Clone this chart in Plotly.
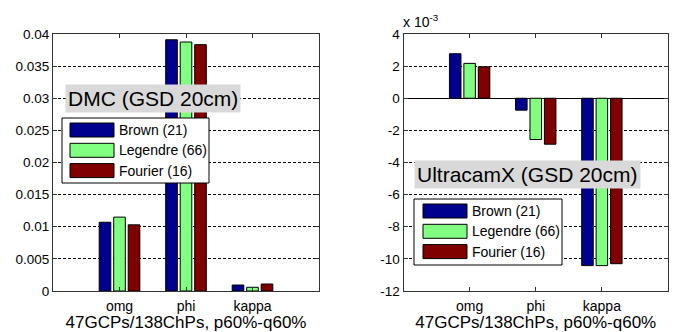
import plotly.graph_objects as go

# Orientation angle residuals per calibration model
categories = ["omg", "phi", "kappa"]
series_names = ["Brown (21)", "Legendre (66)", "Fourier (16)"]
series_colors = ["#00008f", "#80ff80", "#800000"]

# DMC camera (GSD 20cm)
dmc_brown = [0.0107, 0.0391, 0.00093]
dmc_legendre = [0.0115, 0.03875, 0.00058]
dmc_fourier = [0.0103, 0.03834, 0.00109]

# UltracamX camera (GSD 20cm), values in units of 1e-3
ucx_brown = [2.77, -0.74, -10.42]
ucx_legendre = [2.17, -2.57, -10.42]
ucx_fourier = [1.96, -2.86, -10.30]

dmc_ticks = [0, 0.005, 0.01, 0.015, 0.02, 0.025, 0.03, 0.035, 0.04]
dmc_ticktext = ["0", "0.005", "0.01", "0.015", "0.02", "0.025", "0.03", "0.035", "0.04"]
ucx_ticks = [-12, -10, -8, -6, -4, -2, 0, 2, 4]
ucx_ticktext = ["-12", "-10", "-8", "-6", "-4", "-2", "0", "2", "4"]

panel_titles = ["DMC (GSD 20cm)", "UltracamX (GSD 20cm)"]
x_title = "47GCPs/138ChPs, p60%-q60%"

W, H = 676, 332
FONT = "Liberation Sans, Arial, Helvetica, sans-serif"


def px(x):
    return x / W


def py(y):
    return 1 - y / H


fig = go.Figure()

dmc_series = [dmc_brown, dmc_legendre, dmc_fourier]
ucx_series = [ucx_brown, ucx_legendre, ucx_fourier]
for name, color, vals in zip(series_names, series_colors, dmc_series):
    fig.add_trace(go.Bar(x=categories, y=vals, name=name, xaxis="x", yaxis="y",
                         marker=dict(color=color, line=dict(color="black", width=1)),
                         showlegend=False))
for name, color, vals in zip(series_names, series_colors, ucx_series):
    fig.add_trace(go.Bar(x=categories, y=vals, name=name, xaxis="x2", yaxis="y2",
                         marker=dict(color=color, line=dict(color="black", width=1)),
                         showlegend=False))

frame = dict(showline=True, linecolor="#333333", linewidth=1, mirror="ticks",
             ticks="inside", ticklen=4, tickcolor="#333333", automargin=False)
grid = dict(showgrid=True, gridcolor="black", gridwidth=1, griddash="3px,2px")
ytickfont = dict(family=FONT, size=13.5, color="black")
xtickfont = dict(family=FONT, size=14, color="black")

xdom1 = [px(53), px(319)]
xdom2 = [px(403.5), px(668)]
ydom = [py(291), py(34)]

fig.update_layout(
    width=W, height=H,
    margin=dict(l=0, r=0, t=0, b=0, autoexpand=False),
    paper_bgcolor="white", plot_bgcolor="white",
    barmode="group", bargap=0.346, bargroupgap=0.2,
    font=dict(family=FONT, color="black"),
    xaxis=dict(domain=xdom1, anchor="y", type="category", range=[-1, 3],
               showgrid=False, zeroline=False, tickfont=xtickfont,
               ticklabelstandoff=2,
               title=dict(text=x_title, font=dict(family=FONT, size=17), standoff=4),
               **frame),
    xaxis2=dict(domain=xdom2, anchor="y2", type="category", range=[-1, 3],
                showgrid=False, zeroline=False, tickfont=xtickfont,
                ticklabelstandoff=2,
                title=dict(text=x_title, font=dict(family=FONT, size=17), standoff=4),
                **frame),
    yaxis=dict(domain=ydom, anchor="x", range=[0, 0.04], tickvals=dmc_ticks,
               ticktext=dmc_ticktext, zeroline=False, tickfont=ytickfont,
               **grid, **frame),
    yaxis2=dict(domain=ydom, anchor="x2", range=[-12, 4], tickvals=ucx_ticks,
                ticktext=ucx_ticktext, zeroline=True, zerolinecolor="black",
                zerolinewidth=1, tickfont=ytickfont, **grid, **frame),
)

annotations = []
shapes = []

# Exponent label above the right-hand y axis
annotations.append(dict(xref="paper", yref="paper", x=px(401), y=py(21),
                        xanchor="left", yanchor="middle", showarrow=False,
                        text="x 10<sup>-3</sup>",
                        font=dict(family=FONT, size=14, color="black")))

# Panel title boxes
title_pos = [(153, 98), (527, 174)]
for text, (cx, cy) in zip(panel_titles, title_pos):
    annotations.append(dict(xref="paper", yref="paper", x=px(cx), y=py(cy),
                            xanchor="center", yanchor="middle", showarrow=False,
                            text=text, bgcolor="#d9d9d9", borderpad=2,
                            font=dict(family=FONT, size=21, color="black")))

# Legend boxes (box left, top, right, bottom; swatch left; first row centre)
legend_boxes = [(62, 118, 209, 183, 70, 130), (414, 199, 562, 265, 423, 211)]
row_step = 20.3
for bx0, by0, bx1, by1, sx, ry in legend_boxes:
    shapes.append(dict(type="rect", xref="paper", yref="paper",
                       x0=px(bx0), x1=px(bx1), y0=py(by1), y1=py(by0),
                       fillcolor="white", line=dict(color="black", width=1),
                       layer="above"))
    for i, (name, color) in enumerate(zip(series_names, series_colors)):
        cy = ry + i * row_step
        shapes.append(dict(type="rect", xref="paper", yref="paper",
                           x0=px(sx), x1=px(sx + 44), y0=py(cy + 7), y1=py(cy - 7),
                           fillcolor=color, line=dict(color="black", width=1),
                           layer="above"))
        annotations.append(dict(xref="paper", yref="paper", x=px(sx + 47), y=py(cy),
                                xanchor="left", yanchor="middle", showarrow=False,
                                text=name,
                                font=dict(family=FONT, size=14, color="black")))

fig.update_layout(annotations=annotations, shapes=shapes)

fig.write_html("out.html")
